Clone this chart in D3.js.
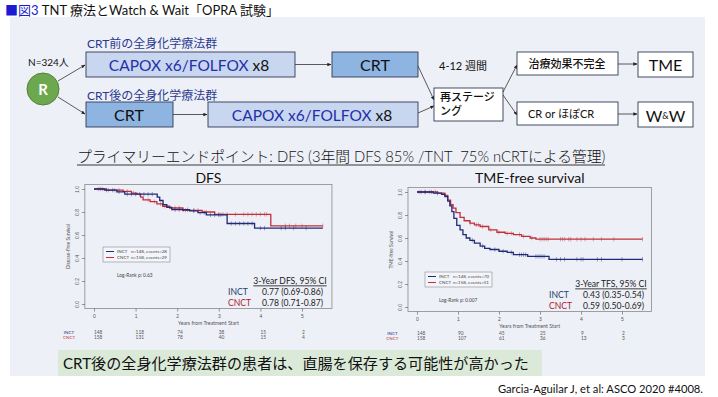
<!DOCTYPE html>
<html>
<head>
<meta charset="utf-8">
<script src="https://cdn.jsdelivr.net/npm/d3@7"></script>
<style>
  body { margin: 0; background: #fff; }
  svg { font-family: Lato, "Noto Sans CJK JP", sans-serif; }
  .tick text { fill: #555; font-size: 5px; }
  .tick line { stroke: #555; stroke-width: 0.6; }
</style>
</head>
<body>
<svg width="718" height="397"></svg>
<script>
// Kaplan-Meier curves: [years, survival]
var years = [0, 1, 2, 3, 4, 5];

var dfsInct = [[0,1],[0.25,0.99],[0.55,0.975],[0.74,0.955],[1.52,0.93],[1.58,0.9],[1.66,0.865],[1.75,0.84],[1.87,0.82],[2.3,0.81],[2.5,0.795],[2.7,0.775],[3.2,0.70],[3.86,0.66],[5.5,0.66]];
var dfsCnct = [[0,1],[0.3,0.99],[0.7,0.98],[0.9,0.965],[1.03,0.955],[1.12,0.93],[1.18,0.905],[1.35,0.89],[1.51,0.87],[1.65,0.85],[1.82,0.835],[2.13,0.815],[2.6,0.80],[2.9,0.78],[4.25,0.68],[5.5,0.68]];
var tmeInct = [[0,1],[0.4,0.99],[0.6,0.98],[0.68,0.96],[0.75,0.92],[0.8,0.88],[0.85,0.83],[0.9,0.77],[0.97,0.71],[1.05,0.67],[1.12,0.63],[1.2,0.6],[1.29,0.58],[1.4,0.555],[1.54,0.53],[1.65,0.51],[1.78,0.5],[2.0,0.485],[2.2,0.475],[2.35,0.455],[2.7,0.44],[3.22,0.415],[5.5,0.415]];
var tmeCnct = [[0,1],[0.5,0.99],[0.68,0.97],[0.75,0.93],[0.82,0.89],[0.88,0.86],[0.95,0.82],[1.05,0.78],[1.15,0.75],[1.29,0.73],[1.4,0.715],[1.54,0.70],[1.75,0.67],[1.95,0.65],[2.15,0.64],[2.35,0.63],[2.55,0.615],[2.76,0.60],[2.9,0.59],[5.5,0.59]];

// censoring times
var dfsInctCens = [0.15,0.3,0.45,0.6,0.8,0.9,1.0,1.1,1.2,1.3,1.4,1.95,2.05,2.15,2.25,2.4,2.55,2.65,2.8,2.9,3.0,3.05,3.3,3.4,3.5,3.6,3.7,3.8,4.0,4.1,4.5,4.6,4.8,5.1];
var dfsCnctCens = [0.1,0.2,0.35,0.5,0.6,0.8,0.95,1.3,1.45,1.6,1.7,1.95,2.05,2.2,2.4,2.5,2.7,3.0,3.1,3.2,3.4,3.6,3.7,3.8,3.9,4.0,4.1,4.15,4.6,4.7,4.85,5.0,5.5];
var tmeInctCens = [0.1,0.2,0.35,0.5,1.35,1.6,1.9,2.1,2.3,2.5,2.55,2.6,2.65,2.9,2.95,3.0,3.05,3.1,3.4,3.5,3.6,3.9,4.0,4.05,4.4,4.5,5.0,5.5];
var tmeCnctCens = [0.05,0.2,0.3,0.45,1.3,1.45,1.5,1.6,1.8,2.0,2.2,2.3,2.5,2.6,2.8,3.0,3.05,3.1,3.15,3.2,3.5,3.55,3.6,3.7,3.75,3.9,4.0,4.1,4.3,4.5,4.8,5.5];

var dfsRiskInct = [148, 118, 74, 38, 15, 2];
var dfsRiskCnct = [158, 131, 78, 40, 15, 4];
var tmeRiskInct = [148, 90, 45, 25, 9, 2];
var tmeRiskCnct = [158, 107, 61, 36, 13, 3];

var blue = "#1f2a78", red = "#c0303a";

var svg = d3.select("svg");

// arrowhead
svg.append("defs").append("marker")
  .attr("id", "arr").attr("viewBox", "0 0 6 6").attr("refX", 5.5).attr("refY", 3)
  .attr("markerWidth", 5).attr("markerHeight", 5).attr("orient", "auto")
  .append("path").attr("d", "M0,0.5L6,3L0,5.5Z").attr("fill", "#222");

// panel
svg.append("rect").attr("x", 10).attr("y", 17).attr("width", 695).attr("height", 359).attr("fill", "#eef0f7");

// slide title
var t = svg.append("text").attr("x", 5).attr("y", 15).attr("font-size", 13);
t.append("tspan").attr("fill", "#1a1ad0").text("■図3");
t.append("tspan").attr("fill", "#111").text(" TNT 療法とWatch & Wait「OPRA 試験」");

// ---------- flowchart ----------
function box(x, y, w, h, fill) {
  svg.append("rect").attr("x", x).attr("y", y).attr("width", w).attr("height", h)
    .attr("fill", fill).attr("stroke", "#2f3b55").attr("stroke-width", 0.9);
}
function arrow(x1, y1, x2, y2) {
  svg.append("line").attr("x1", x1).attr("y1", y1).attr("x2", x2).attr("y2", y2)
    .attr("stroke", "#333").attr("stroke-width", 0.8).attr("marker-end", "url(#arr)");
}
function label(x, y, s, size, fill, anchor) {
  return svg.append("text").attr("x", x).attr("y", y).attr("font-size", size)
    .attr("fill", fill || "#111").attr("text-anchor", anchor || "start")
    .attr("dominant-baseline", "central").text(s);
}
function capox(cx, cy) {
  var tx = svg.append("text").attr("x", cx).attr("y", cy).attr("font-size", 15.5)
    .attr("text-anchor", "middle").attr("dominant-baseline", "central");
  tx.append("tspan").attr("fill", "#2430a8").text("CAPOX x6/FOLFOX");
  tx.append("tspan").attr("fill", "#111").text(" x8");
}

label(28, 62, "N=324人", 10);
svg.append("circle").attr("cx", 43).attr("cy", 89).attr("r", 16)
  .attr("fill", "#6ea84e").attr("stroke", "#54823a").attr("stroke-width", 1);
label(43, 89, "R", 15, "#fff", "middle").attr("font-weight", "bold");
arrow(58, 81, 85, 65);
arrow(58, 97, 85, 114);

label(87, 43, "CRT前の全身化学療法群", 12, "#2b3990");
label(87, 95, "CRT後の全身化学療法群", 12, "#2b3990");

box(86, 52, 209, 25, "#c8d6f0");
capox(189, 64.5);
arrow(295, 64.5, 331, 64.5);
box(332, 52, 86, 25, "#8eb4e2");
label(375, 64.5, "CRT", 16, "#111", "middle");

box(86, 102, 87, 25, "#8eb4e2");
label(129, 114.5, "CRT", 16, "#111", "middle");
arrow(173, 114.5, 207, 114.5);
box(208, 102, 210, 25, "#c8d6f0");
capox(312, 114.5);

label(439, 65, "4-12 週間", 11);
arrow(418, 66, 434, 100);
arrow(418, 113, 434, 106);
box(434, 88, 69, 33, "#fff");
label(440, 96, "再ステージ", 11).attr("font-weight", 500);
label(440, 110, "ング", 11).attr("font-weight", 500);

arrow(503, 92, 517, 65);
arrow(503, 95, 517, 115);
box(517, 52, 101, 23, "#fff");
label(567, 63.5, "治療効果不完全", 11, "#111", "middle").attr("font-weight", 500);
box(517, 102, 101, 23, "#fff");
label(528, 113.5, "CR or ほぼCR", 11);
arrow(618, 64, 637, 64);
arrow(618, 114, 637, 114);
box(638, 52, 55, 25, "#fff");
label(665.5, 64.5, "TME", 16, "#111", "middle");
box(638, 102, 55, 25, "#fff");
var ww = label(665.5, 114.5, "", 16, "#111", "middle");
ww.append("tspan").text("W");
ww.append("tspan").attr("font-size", 9).text("&");
ww.append("tspan").text("W");

// heading
label(77, 156, "プライマリーエンドポイント: DFS (3年間 DFS 85% /TNT\u00a0 75% nCRTによる管理)", 14.8).attr("font-weight", 300);
svg.append("line").attr("x1", 77).attr("x2", 605).attr("y1", 165).attr("y2", 165).attr("stroke", "#222").attr("stroke-width", 0.9);

// ---------- KM plots ----------
function survAt(curve, t) {
  var i = d3.bisector(function(d) { return d[0]; }).right(curve, t) - 1;
  return curve[Math.max(i, 0)][1];
}

function kmPlot(o) {
  var x = d3.scaleLinear().domain([0, 5]).range([o.x0, o.x5]);
  var y = d3.scaleLinear().domain([0, 1]).range([o.y0, o.y1]);
  var g = svg.append("g");

  label((x(-0.22) + x(5.72)) / 2, 177, o.title, 14, "#111", "middle");

  g.append("rect").attr("x", x(-0.22)).attr("y", y(1.04))
    .attr("width", x(5.72) - x(-0.22)).attr("height", y(-0.04) - y(1.04))
    .attr("fill", "none").attr("stroke", "#8a8a8a").attr("stroke-width", 0.8);

  var ax = g.append("g").attr("transform", "translate(0," + y(-0.04) + ")")
    .call(d3.axisBottom(x).tickValues(years).tickFormat(d3.format("d")).tickSize(3).tickPadding(3).tickSizeOuter(0));
  ax.select(".domain").remove();

  var ay = g.append("g").attr("transform", "translate(" + x(-0.22) + ",0)")
    .call(d3.axisLeft(y).tickValues([0, 0.2, 0.4, 0.6, 0.8, 1]).tickFormat(d3.format(".1f")).tickSize(3).tickSizeOuter(0));
  ay.select(".domain").remove();
  ay.selectAll(".tick text").attr("x", 0).attr("y", 0).attr("dy", 0)
    .attr("text-anchor", "middle").attr("transform", "translate(-6,0) rotate(-90)");

  g.append("text").attr("x", (x(-0.22) + x(5.72)) / 2).attr("y", y(-0.04) + 16)
    .attr("font-size", 5.2).attr("fill", "#555").attr("text-anchor", "middle").text("Years from Treatment Start");
  g.append("text").attr("transform", "translate(" + (x(-0.22) - 15) + "," + y(0.5) + ") rotate(-90)")
    .attr("font-size", 4.8).attr("fill", "#555").attr("text-anchor", "middle").text(o.ylab);

  var line = d3.line().x(function(d) { return x(d[0]); }).y(function(d) { return y(d[1]); }).curve(d3.curveStepAfter);
  [[o.cnct, o.cnctCens, red], [o.inct, o.inctCens, blue]].forEach(function(s) {
    g.append("path").attr("d", line(s[0])).attr("fill", "none").attr("stroke", s[2]).attr("stroke-width", 1.3);
    g.selectAll(null).data(s[1]).enter().append("line")
      .attr("x1", function(d) { return x(d); }).attr("x2", function(d) { return x(d); })
      .attr("y1", function(d) { return y(survAt(s[0], d)) - 2.2; })
      .attr("y2", function(d) { return y(survAt(s[0], d)) + 2.2; })
      .attr("stroke", s[2]).attr("stroke-opacity", 0.6).attr("stroke-width", 0.7);
  });

  // legend
  var lg = g.append("g").attr("transform", "translate(" + o.lx + "," + o.ly + ")");
  lg.append("rect").attr("width", 67).attr("height", 15).attr("fill", "#f4f5fa").attr("stroke", "#777").attr("stroke-width", 0.5);
  [["INCT", o.nInct, blue], ["CNCT", o.nCnct, red]].forEach(function(r, i) {
    var yy = 4.5 + i * 6;
    lg.append("line").attr("x1", 3).attr("x2", 11).attr("y1", yy).attr("y2", yy).attr("stroke", r[2]).attr("stroke-width", 1);
    lg.append("text").attr("x", 14).attr("y", yy).attr("dominant-baseline", "central").attr("font-size", 4.5).attr("fill", "#444").text(r[0]);
    lg.append("text").attr("x", 28).attr("y", yy).attr("dominant-baseline", "central").attr("font-size", 4.5).attr("fill", "#444").text(r[1]);
  });
  g.append("text").attr("x", o.lx + 14).attr("y", o.ly + 30).attr("font-size", 4.8).attr("fill", "#444").text(o.logrank);

  // 3-year estimates
  var cx = o.cix;
  g.append("text").attr("x", cx + 28).attr("y", y(0.17)).attr("font-size", 8.6)
    .attr("fill", "#222").attr("text-anchor", "middle").attr("text-decoration", "underline").text(o.ciHead);
  g.append("text").attr("x", cx - 34).attr("y", y(0.08)).attr("font-size", 8.6).attr("fill", "#1f3f6a").text("INCT");
  g.append("text").attr("x", cx).attr("y", y(0.08)).attr("font-size", 8.6).attr("fill", "#222").text(o.ciInct);
  g.append("text").attr("x", cx - 34).attr("y", y(-0.015)).attr("font-size", 8.6).attr("fill", "#b02030").text("CNCT");
  g.append("text").attr("x", cx).attr("y", y(-0.015)).attr("font-size", 8.6).attr("fill", "#222").text(o.ciCnct);

  // numbers at risk
  g.append("text").attr("x", x(-0.6)).attr("y", o.riskY).attr("font-size", 4.5).attr("fill", blue).attr("text-anchor", "middle").text("INCT");
  g.append("text").attr("x", x(-0.6)).attr("y", o.riskY + 5).attr("font-size", 4.5).attr("fill", red).attr("text-anchor", "middle").text("CNCT");
  g.selectAll(null).data(o.riskInct).enter().append("text")
    .attr("x", function(d, i) { return x(years[i]); }).attr("y", o.riskY)
    .attr("font-size", 4.8).attr("fill", "#555").text(function(d) { return d; });
  g.selectAll(null).data(o.riskCnct).enter().append("text")
    .attr("x", function(d, i) { return x(years[i]); }).attr("y", o.riskY + 5)
    .attr("font-size", 4.8).attr("fill", "#555").text(function(d) { return d; });
}

kmPlot({
  title: "DFS", ylab: "Disease-Free Survival",
  x0: 94, x5: 302, y0: 304, y1: 189,
  inct: dfsInct, cnct: dfsCnct, inctCens: dfsInctCens, cnctCens: dfsCnctCens,
  lx: 103, ly: 247, nInct: "n=148, events=28", nCnct: "n=158, events=29", logrank: "Log-Rank p: 0.63",
  cix: 262, ciHead: "3-Year DFS, 95% CI", ciInct: "0.77 (0.69-0.86)", ciCnct: "0.78 (0.71-0.87)",
  riskY: 334, riskInct: dfsRiskInct, riskCnct: dfsRiskCnct
});

kmPlot({
  title: "TME-free survival", ylab: "TME-free Survival",
  x0: 417, x5: 622, y0: 307, y1: 192,
  inct: tmeInct, cnct: tmeCnct, inctCens: tmeInctCens, cnctCens: tmeCnctCens,
  lx: 425, ly: 272, nInct: "n=148, events=70", nCnct: "n=158, events=51", logrank: "Log-Rank p: 0.007",
  cix: 583, ciHead: "3-Year TFS, 95% CI", ciInct: "0.43 (0.35-0.54)", ciCnct: "0.59 (0.50-0.69)",
  riskY: 335, riskInct: tmeRiskInct, riskCnct: tmeRiskCnct
});

// conclusion
svg.append("rect").attr("x", 58).attr("y", 350).attr("width", 484).attr("height", 26).attr("fill", "#dbead8");
label(63, 363, "CRT後の全身化学療法群の患者は、直腸を保存する可能性が高かった", 15.1);

label(703, 388, "Garcia-Aguilar J, et al: ASCO 2020 #4008.", 11.2, "#111", "end");
</script>
</body>
</html>
